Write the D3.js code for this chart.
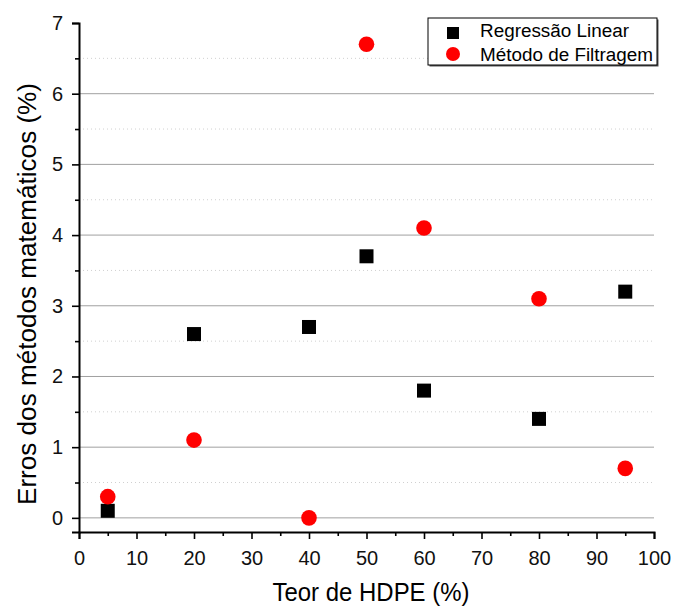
<!DOCTYPE html>
<html>
<head>
<meta charset="utf-8">
<script src="https://cdn.jsdelivr.net/npm/d3@7"></script>
<style>
body { margin: 0; background: #fff; }
svg { font-family: "Liberation Sans", Arial, sans-serif; }
</style>
</head>
<body>
<div id="chart"></div>
<script>
const teor = [5, 20, 40, 50, 60, 80, 95];
const regressao = [0.1, 2.6, 2.7, 3.7, 1.8, 1.4, 3.2];
const filtragem = [0.3, 1.1, 0, 6.7, 4.1, 3.1, 0.7];
const xTicks = [0, 10, 20, 30, 40, 50, 60, 70, 80, 90, 100];
const yTicks = [0, 1, 2, 3, 4, 5, 6, 7];

const width = 675, height = 610;
const m = { left: 79, right: 21, top: 23, bottom: 78 };

const svg = d3.select('#chart').append('svg')
  .attr('width', width)
  .attr('height', height);

const x = d3.scaleLinear().domain([0, 100]).range([m.left, width - m.right]);
const y = d3.scaleLinear().domain([-0.2, 7]).range([height - m.bottom, m.top]);

// grid - minor dotted, major solid
const minorY = d3.range(0.5, 7, 1);
svg.append('g').selectAll('line').data(minorY).join('line')
  .attr('x1', x(0)).attr('x2', x(100))
  .attr('y1', d => y(d)).attr('y2', d => y(d))
  .attr('stroke', '#d0d0d0')
  .attr('stroke-dasharray', '1,3');
svg.append('g').selectAll('line').data(yTicks.slice(0, -1)).join('line')
  .attr('x1', x(0)).attr('x2', x(100))
  .attr('y1', d => y(d)).attr('y2', d => y(d))
  .attr('stroke', '#a0a0a0')
  .attr('stroke-width', 1);

// axes
svg.append('g')
  .attr('transform', `translate(0,${y(-0.2)})`)
  .call(d3.axisBottom(x).tickValues(xTicks).tickSize(7).tickPadding(12));
svg.append('g')
  .attr('transform', `translate(0,${y(-0.2)})`)
  .call(d3.axisBottom(x).tickValues(d3.range(5, 100, 10)).tickSize(4).tickFormat(''))
  .call(g => g.select('.domain').remove());

svg.append('g')
  .attr('transform', `translate(${x(0)},0)`)
  .call(d3.axisLeft(y).tickValues(yTicks).tickSize(7).tickPadding(9));
svg.append('g')
  .attr('transform', `translate(${x(0)},0)`)
  .call(d3.axisLeft(y).tickValues(minorY).tickSize(4).tickFormat(''))
  .call(g => g.select('.domain').remove());

svg.selectAll('.domain').attr('stroke-width', 2).attr('stroke', '#000');
svg.selectAll('.tick line').attr('stroke-width', 1.6).attr('stroke', '#000');
svg.selectAll('.tick text').attr('font-size', 20).attr('fill', '#111')
  .attr('font-family', '"Liberation Sans", Arial, sans-serif');

// titles
svg.append('text')
  .attr('x', 371).attr('y', 601)
  .attr('text-anchor', 'middle')
  .attr('font-size', 26)
  .attr('textLength', 197).attr('lengthAdjust', 'spacingAndGlyphs')
  .text('Teor de HDPE (%)');
svg.append('text')
  .attr('transform', 'translate(36,294) rotate(-90)')
  .attr('text-anchor', 'middle')
  .attr('font-size', 26)
  .attr('textLength', 422).attr('lengthAdjust', 'spacingAndGlyphs')
  .text('Erros dos métodos matemáticos (%)');

// points
const sq = 14;
svg.append('g').selectAll('rect').data(teor).join('rect')
  .attr('x', d => x(d) - sq / 2)
  .attr('y', (d, i) => y(regressao[i]) - sq / 2)
  .attr('width', sq).attr('height', sq)
  .attr('fill', '#000');
svg.append('g').selectAll('circle').data(teor).join('circle')
  .attr('cx', d => x(d))
  .attr('cy', (d, i) => y(filtragem[i]))
  .attr('r', 7.8)
  .attr('fill', '#ff0000');

// legend
const lg = svg.append('g').attr('transform', 'translate(428,18)');
lg.append('rect').attr('x', 1.5).attr('y', 1.5).attr('width', 229).attr('height', 47)
  .attr('fill', '#555');
lg.append('rect').attr('width', 229).attr('height', 47)
  .attr('fill', '#fff').attr('stroke', '#000').attr('stroke-width', 1);
lg.append('rect').attr('x', 19).attr('y', 9).attr('width', 12).attr('height', 12).attr('fill', '#000');
lg.append('circle').attr('cx', 25).attr('cy', 36).attr('r', 7).attr('fill', '#ff0000');
lg.append('text').attr('x', 52).attr('y', 19).attr('font-size', 18)
  .attr('textLength', 149).attr('lengthAdjust', 'spacingAndGlyphs').text('Regressão Linear');
lg.append('text').attr('x', 52).attr('y', 43).attr('font-size', 18)
  .attr('textLength', 173).attr('lengthAdjust', 'spacingAndGlyphs').text('Método de Filtragem');
</script>
</body>
</html>
